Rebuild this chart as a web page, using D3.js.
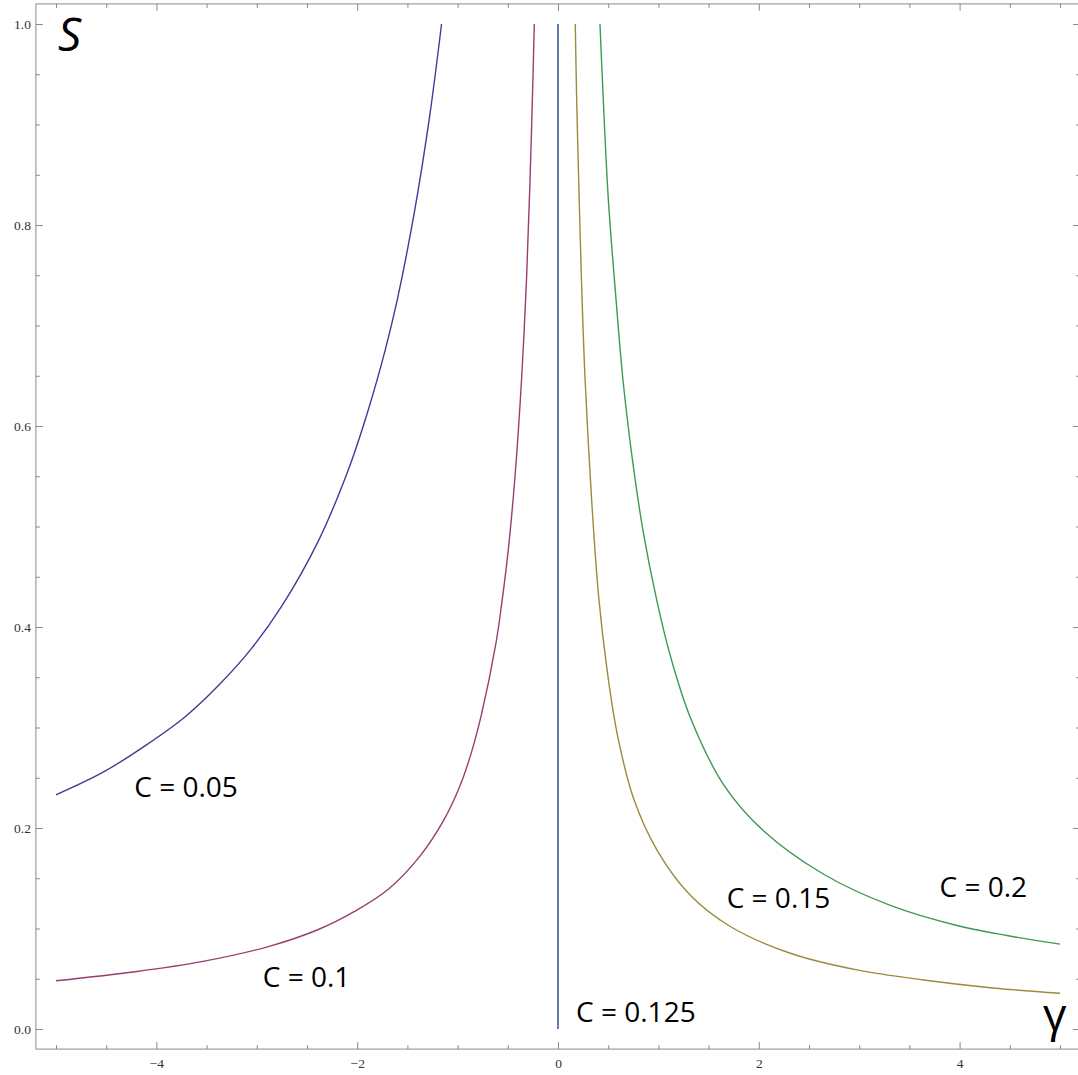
<!DOCTYPE html>
<html><head><meta charset="utf-8">
<script src="https://cdn.jsdelivr.net/npm/d3@7"></script>
<style>html,body{margin:0;padding:0;background:#fff;}svg{display:block;}</style>
</head><body>
<script>
// ---- data (gamma, S) ----
const seriesNames = ["C = 0.05", "C = 0.1", "C = 0.125", "C = 0.15", "C = 0.2"];
const c005 = [[-5.00,0.233],[-4.54,0.255],[-4.11,0.282],[-3.71,0.311],[-3.38,0.342],[-3.05,0.379],[-2.75,0.421],[-2.39,0.485],[-2.09,0.556],[-1.89,0.616],[-1.72,0.676],[-1.60,0.726],[-1.43,0.813],[-1.28,0.907],[-1.16,1.0]];
const c010 = [[-5.00,0.048],[-4.21,0.057],[-3.55,0.067],[-2.885,0.082],[-2.387,0.099],[-2.026,0.117],[-1.69,0.139],[-1.375,0.172],[-1.142,0.207],[-0.976,0.242],[-0.86,0.276],[-0.76,0.314],[-0.618,0.384],[-0.561,0.423],[-0.495,0.477],[-0.428,0.55],[-0.362,0.648],[-0.312,0.75],[-0.279,0.843],[-0.256,0.922],[-0.236,1.0]];
const c0125 = [[0,0],[0,1]];
const c015 = [[0.172,1.0],[0.186,0.925],[0.202,0.86],[0.236,0.738],[0.269,0.648],[0.336,0.525],[0.405,0.43],[0.488,0.358],[0.588,0.2945],[0.754,0.229],[0.986,0.178],[1.318,0.133],[1.716,0.102],[2.314,0.0754],[2.978,0.0588],[3.642,0.0488],[4.306,0.0411],[5.00,0.0356]];
const c020 = [[0.418,1.0],[0.451,0.925],[0.501,0.826],[0.578,0.726],[0.650,0.643],[0.750,0.560],[0.850,0.494],[0.983,0.427],[1.117,0.372],[1.318,0.31],[1.650,0.243],[2.049,0.197],[2.646,0.154],[3.310,0.123],[3.974,0.103],[4.472,0.093],[5.00,0.0844]];
const seriesValues = [c005, c010, c0125, c015, c020];
const seriesColors = ["#3d3d99", "#993d71", "#3d5a99", "#998c3d", "#3d9954"];
// label anchor points in data units (left, baseline)
const labelPos = [[-4.22,0.231],[-2.94,0.042],[0.18,0.007],[1.68,0.12],[3.80,0.131]];
const xMajor = [-4,-2,0,2,4];
const xMinor = [-5,-4.5,-3.5,-3,-2.5,-1.5,-1,-0.5,0.5,1,1.5,2.5,3,3.5,4.5,5];
const yMajor = [0,0.2,0.4,0.6,0.8,1.0];
const yMinor = [0.05,0.1,0.15,0.25,0.3,0.35,0.45,0.5,0.55,0.65,0.7,0.75,0.85,0.9,0.95];
const xLabel = "γ", yLabel = "S";

const W = 1078, H = 1075;
const svg = d3.select("body").append("svg").attr("width", W).attr("height", H);

const x = d3.scaleLinear().domain([-5,5]).range([56,1060]);
const y = d3.scaleLinear().domain([0,1]).range([1029,24]);
const fx0 = x(-5.2), fx1 = x(5.2), fy0 = y(1.02), fy1 = y(-0.02);

const frameColor = "#8a8a8a";

function styleAxis(g){
  g.select(".domain").remove();
  g.selectAll(".tick line").attr("stroke", frameColor).attr("stroke-width",1);
  g.selectAll(".tick text").attr("font-family","'Liberation Serif', 'Times New Roman', serif").attr("font-size",13.5).attr("fill","#333");
}

// bottom
svg.append("g").attr("transform",`translate(0,${fy1})`)
  .call(d3.axisBottom(x).tickValues(xMajor).tickSize(-7).tickPadding(9).tickFormat(d3.format("d"))).call(styleAxis);
svg.append("g").attr("transform",`translate(0,${fy1})`)
  .call(d3.axisBottom(x).tickValues(xMinor).tickSize(-4).tickFormat("")).call(styleAxis);
// top
svg.append("g").attr("transform",`translate(0,${fy0})`)
  .call(d3.axisTop(x).tickValues(xMajor).tickSize(-7).tickFormat("")).call(styleAxis);
svg.append("g").attr("transform",`translate(0,${fy0})`)
  .call(d3.axisTop(x).tickValues(xMinor).tickSize(-4).tickFormat("")).call(styleAxis);
// left
svg.append("g").attr("transform",`translate(${fx0},0)`)
  .call(d3.axisLeft(y).tickValues(yMajor).tickSize(-7).tickPadding(5).tickFormat(d3.format(".1f"))).call(styleAxis);
svg.append("g").attr("transform",`translate(${fx0},0)`)
  .call(d3.axisLeft(y).tickValues(yMinor).tickSize(-4).tickFormat("")).call(styleAxis);
// right
svg.append("g").attr("transform",`translate(${fx1},0)`)
  .call(d3.axisRight(y).tickValues(yMajor).tickSize(-7).tickFormat("")).call(styleAxis);
svg.append("g").attr("transform",`translate(${fx1},0)`)
  .call(d3.axisRight(y).tickValues(yMinor).tickSize(-4).tickFormat("")).call(styleAxis);

// frame
svg.append("rect").attr("x",fx0).attr("y",fy0).attr("width",fx1-fx0).attr("height",fy1-fy0)
  .attr("fill","none").attr("stroke",frameColor).attr("stroke-width",1);

// curves
const line = d3.line().x(d=>x(d[0])).y(d=>y(d[1])).curve(d3.curveCatmullRom.alpha(0.5));
seriesValues.forEach((vals,i)=>{
  svg.append("path").attr("d", line(vals))
    .attr("fill","none").attr("stroke",seriesColors[i]).attr("stroke-width", vals.length===2?1.6:1.4);
});

// curve labels
seriesNames.forEach((t,i)=>{
  svg.append("text").attr("x",x(labelPos[i][0])).attr("y",y(labelPos[i][1]))
    .attr("font-family","'Open Sans', 'Noto Sans', sans-serif").attr("font-size",28).attr("fill","#000")
    .text(t);
});

// axis labels
svg.append("text").attr("x",58).attr("y",51).attr("font-family","'Open Sans', 'Noto Sans', sans-serif")
  .attr("font-style","italic").attr("font-size",46).attr("fill","#000").text(yLabel);
svg.append("text").attr("x",1043).attr("y",1031).attr("font-family","'Open Sans', 'Noto Sans', sans-serif")
  .attr("font-size",46).attr("fill","#000").text(xLabel);
</script>
</body></html>
